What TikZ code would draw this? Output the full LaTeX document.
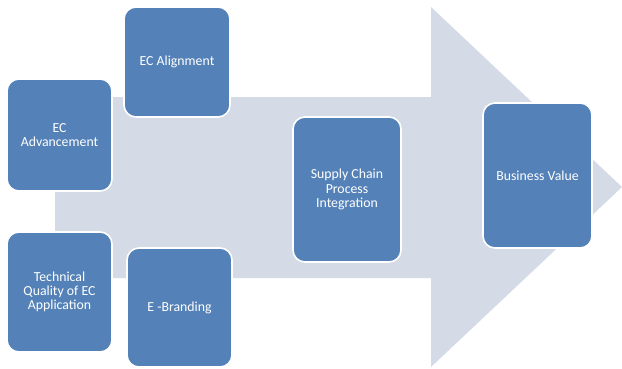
\documentclass[tikz,border=0pt]{standalone}
\usepackage{fontspec}
\setmainfont{Carlito}
\definecolor{boxblue}{HTML}{5482B8}
\definecolor{arrowgray}{HTML}{D4DBE7}
\begin{document}
\begin{tikzpicture}[x=1pt,y=-1pt,
  stepbox/.style={draw=white, line width=1.6pt, fill=boxblue, rounded corners=12pt,
    text=white, align=center, inner sep=0pt,
    font=\fontsize{13.8}{14.2}\selectfont}]
  \useasboundingbox[fill=white] (0,0) rectangle (622,368);
  % large background arrow
  \fill[arrowgray] (55,97) -- (431,97) -- (431,7) -- (622,187) -- (431,367)
    -- (431,278) -- (55,278) -- cycle;
  % process boxes
  \node[stepbox, minimum width=105pt, minimum height=112pt] (adv) at (59.5,135) {EC\\Advancement};
  \node[stepbox, minimum width=106pt, minimum height=110pt] (ali) at (177,62) {EC Alignment};
  \node[stepbox, minimum width=105pt, minimum height=120pt] (tech) at (59.5,292) {Technical\\Quality of EC\\Application};
  \node[stepbox, minimum width=105pt, minimum height=119pt] (brand) at (179.5,307.5) {E -Branding};
  \node[stepbox, minimum width=108pt, minimum height=145pt] (scm) at (347,189.5) {Supply Chain\\Process\\Integration};
  \node[stepbox, minimum width=109pt, minimum height=145pt] (bv) at (537.5,175.5) {Business Value};
\end{tikzpicture}
\end{document}
